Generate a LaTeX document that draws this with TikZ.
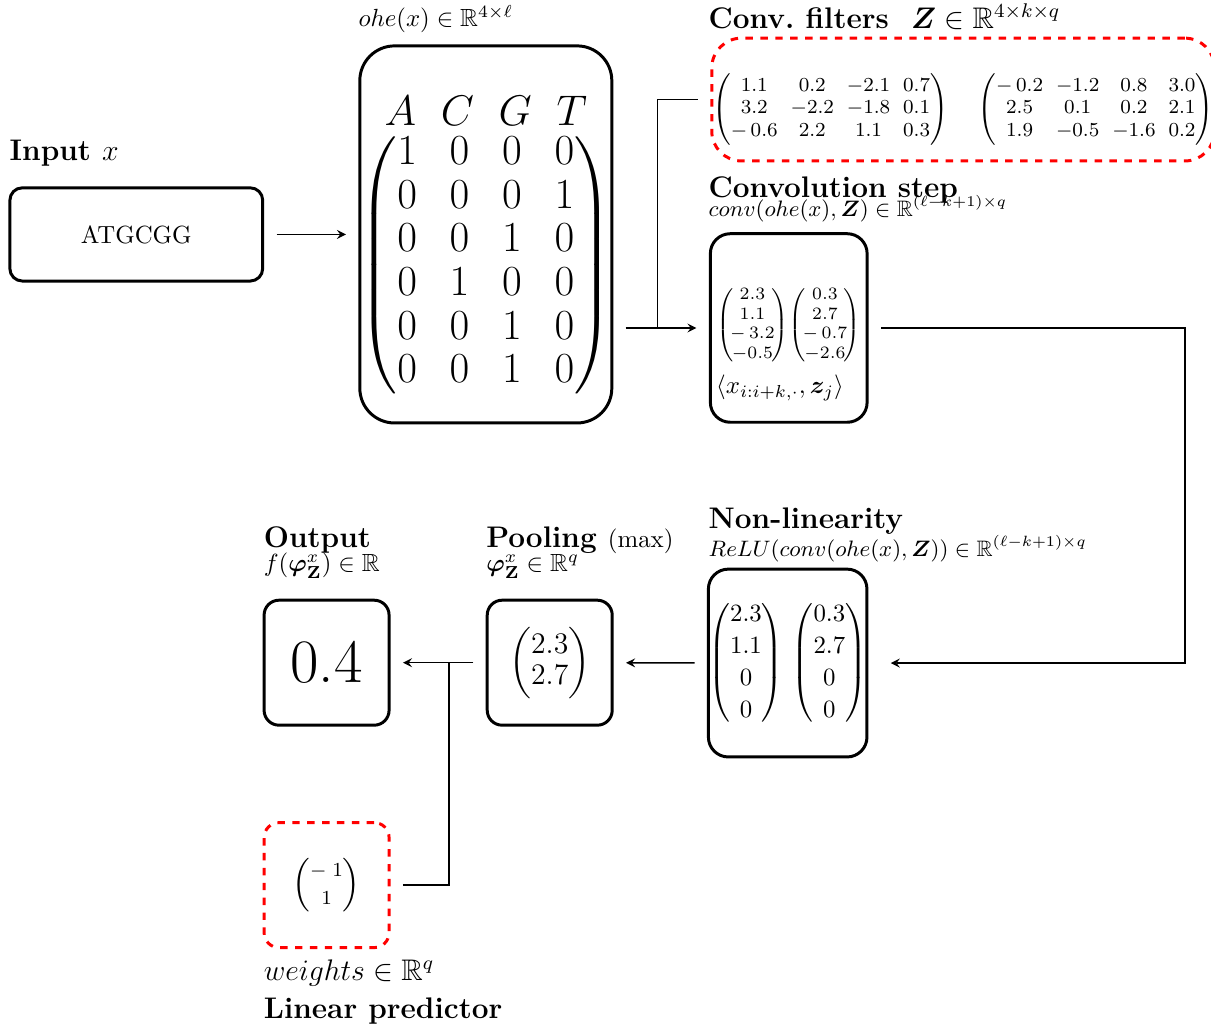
\documentclass[tikz,border=0pt]{standalone}
\usepackage{amsmath, amssymb, bm}
\usetikzlibrary{positioning}

\begin{document}
\begin{tikzpicture}[
    box/.style={draw, line width=1.2pt, inner sep=0pt},
    redbox/.style={draw=red, dashed, line width=1.2pt, inner sep=0pt},
    conn/.style={->, >=stealth, semithick, shorten <=5pt, shorten >=5pt},
    title/.style={font=\large\bfseries, anchor=base west, inner sep=0pt},
    dim/.style={font=\small, anchor=base west, inner sep=0pt}
  ]
  \useasboundingbox (0,0) rectangle (17.15,-14.56);

  % Input sequence
  \node[box, rounded corners=5pt, minimum width=3.58cm, minimum height=1.32cm] (input) at (1.93,-3.32) {ATGCGG};
  \node[title] (inputlbl) at (0.13,-2.27) {Input {\mdseries$x$}};

  % One-hot encoding
  \node[box, rounded corners=14pt, minimum width=3.54cm, minimum height=5.34cm] (ohe) at (6.88,-3.32)
    {\raisebox{-7pt}[0pt][0pt]{\begin{tabular}{@{}c@{}}
     \LARGE $\arraycolsep=5pt\def\arraystretch{0.8}\begin{matrix} A & C & G & T \end{matrix}$\\[-2pt]
     \LARGE $\arraycolsep=6.6pt\def\arraystretch{0.8}\begin{pmatrix}
       1 & 0 & 0 & 0\\ 0 & 0 & 0 & 1\\ 0 & 0 & 1 & 0\\
       0 & 1 & 0 & 0\\ 0 & 0 & 1 & 0\\ 0 & 0 & 1 & 0 \end{pmatrix}$
     \end{tabular}}};
  \node[dim, font=\normalsize] (ohelbl) at (5.07,-0.38) {$ohe(x) \in \mathbb{R}^{4\times\ell}$};

  % Convolution filters
  \node[redbox, rounded corners=12pt, minimum width=7.12cm, minimum height=1.74cm] (filters) at (13.64,-1.41)
    {\raisebox{-6pt}[0pt][0pt]{\footnotesize $\arraycolsep=2.6pt\def\arraystretch{0.95}
     \begin{pmatrix} 1.1 & 0.2 & -2.1 & 0.7\\ 3.2 & -2.2 & -1.8 & 0.1\\ -\,0.6 & 2.2 & 1.1 & 0.3 \end{pmatrix}
     \quad\;
     \begin{pmatrix} -\,0.2 & -1.2 & 0.8 & 3.0\\ 2.5 & 0.1 & 0.2 & 2.1\\ 1.9 & -0.5 & -1.6 & 0.2 \end{pmatrix}$}};
  \node[title] (filterslbl) at (10.03,-0.40) {Conv.\ filters\hspace{9pt}$\bm{Z}\in\mathbb{R}^{4\times k\times q}$};

  % Convolution step
  \node[title] (convlbl) at (10.03,-2.80) {Convolution step};
  \node[dim] (convdim) at (10.03,-3.06) {$conv(ohe(x),\bm{Z})\in\mathbb{R}^{(\ell-k+1)\times q}$};
  \node[box, rounded corners=8pt, minimum width=2.22cm, minimum height=2.67cm] (conv) at (11.17,-4.645)
    {\raisebox{-9pt}[0pt][0pt]{\begin{tabular}{@{}l@{}}
     \scriptsize $\left(\!\begin{matrix} 2.3\\ 1.1\\ -\,3.2\\ -0.5 \end{matrix}\!\right)\!\left(\!\begin{matrix} 0.3\\ 2.7\\ -\,0.7\\ -2.6 \end{matrix}\!\right)$\\[14pt]
     $\langle x_{i:i+k,\cdot}, \bm{z}_j\rangle$
     \end{tabular}}};

  % Non-linearity
  \node[title] (relulbl) at (10.03,-7.49) {Non-linearity};
  \node[dim] (reludim) at (10.03,-7.88) {$ReLU(conv(ohe(x),\bm{Z}))\in\mathbb{R}^{(\ell-k+1)\times q}$};
  \node[box, rounded corners=8pt, minimum width=2.22cm, minimum height=2.66cm] (relu) at (11.155,-9.39)
    {$\def\arraystretch{1.07}\begin{pmatrix} 2.3\\ 1.1\\ 0\\ 0 \end{pmatrix}\,\begin{pmatrix} 0.3\\ 2.7\\ 0\\ 0 \end{pmatrix}$};

  % Pooling
  \node[title] (poollbl) at (6.88,-7.76) {Pooling {\normalsize\mdseries (max)}};
  \node[dim, font=\normalsize] (pooldim) at (6.88,-8.10) {$\bm{\varphi}^x_{\mathbf{Z}}\in\mathbb{R}^q$};
  \node[box, rounded corners=6pt, minimum size=1.77cm] (pool) at (7.785,-9.385)
    {\large $\def\arraystretch{0.9}\begin{pmatrix} 2.3\\ 2.7 \end{pmatrix}$};

  % Output
  \node[title] (outlbl) at (3.73,-7.76) {Output};
  \node[dim, font=\normalsize] (outdim) at (3.73,-8.10) {$f(\bm{\varphi}^x_{\mathbf{Z}})\in\mathbb{R}$};
  \node[box, rounded corners=6pt, minimum size=1.77cm] (out) at (4.625,-9.385) {\Huge 0.4};

  % Linear predictor weights
  \node[redbox, rounded corners=6pt, minimum size=1.77cm] (weights) at (4.625,-12.535)
    {\large $\def\arraystretch{0.8}\begin{pmatrix} \scriptstyle -\;1\\ \scriptstyle 1 \end{pmatrix}$};
  \node[dim, font=\large] (weightsdim) at (3.73,-13.88) {$weights\in\mathbb{R}^q$};
  \node[title] (weightslbl) at (3.73,-14.42) {Linear predictor};

  % Connectors
  \coordinate (split) at (9.31,-4.645);
  \coordinate (bend) at (16.78,-4.645);
  \coordinate (merge) at (6.36,-9.385);
  \draw[conn] (input) -- (ohe);
  \draw[conn] (ohe.east |- conv.west) -- (conv.west);
  \draw[semithick, shorten <=5pt] (filters.west) -| (split);
  \draw[conn, shorten >=9pt] (conv.east) -- (bend) |- (relu.east);
  \draw[conn] (relu) -- (pool);
  \draw[conn] (pool) -- (out);
  \draw[semithick, shorten <=5pt] (weights.east) -| (merge);
\end{tikzpicture}
\end{document}
